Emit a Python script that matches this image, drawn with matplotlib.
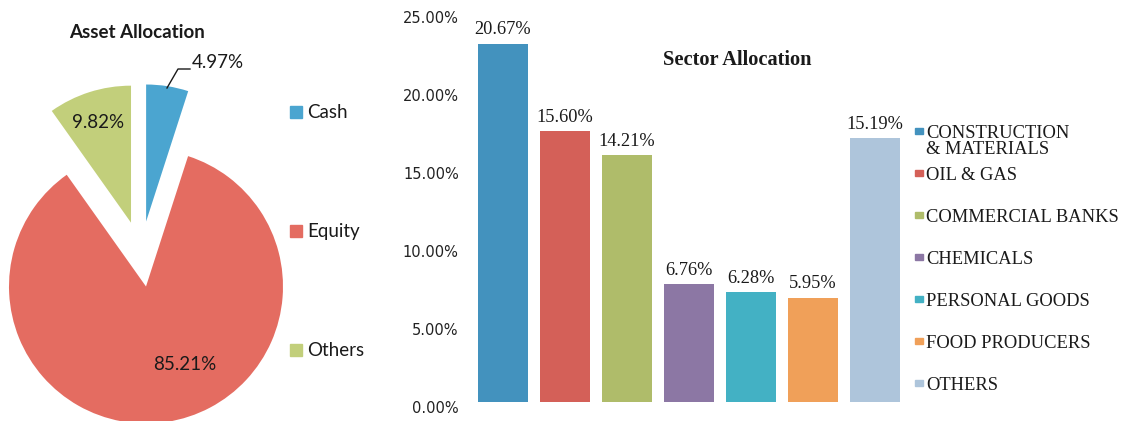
import matplotlib
matplotlib.use('Agg')
import matplotlib.pyplot as plt
import matplotlib.transforms as mtransforms
from matplotlib.patches import Rectangle

# Asset allocation (pie)
asset_names = ['Cash', 'Equity', 'Others']
asset_values = [4.97, 85.21, 9.82]
asset_colors = ['#4BA5D0', '#E46C61', '#C2CF7B']

# Sector allocation (bars): printed labels and heights as drawn on the axis
sector_names = ['CONSTRUCTION\n& MATERIALS', 'OIL & GAS', 'COMMERCIAL BANKS', 'CHEMICALS',
                'PERSONAL GOODS', 'FOOD PRODUCERS', 'OTHERS']
sector_labels = [20.67, 15.60, 14.21, 6.76, 6.28, 5.95, 15.19]
sector_heights = [22.95, 17.37, 15.83, 7.56, 7.05, 6.67, 16.92]
sector_colors = ['#4392BE', '#D46058', '#AFBC6A', '#8C77A4', '#43B1C4', '#F0A059', '#AEC5DB']
y_ticks = [0, 5, 10, 15, 20, 25]

W, H = 1123, 421
fig = plt.figure(figsize=(W / 100, H / 100), dpi=100)

sans = 'Lato'
serif = 'Liberation Serif'

# ---- Pie chart ----
R = 137
cx, cy = 141, 254  # pie centre, pixels from top-left
ax_pie = fig.add_axes([0, 0, 290 / W, 1])
ax_pie.pie(asset_values, colors=asset_colors, startangle=90, counterclock=False,
           explode=[0.24] * 3, radius=1, wedgeprops=dict(linewidth=0))
ax_pie.set_aspect('auto')
ax_pie.set_xlim(-cx / R, (290 - cx) / R)
ax_pie.set_ylim(-(H - cy) / R, cy / R)
ax_pie.axis('off')


def px(x, y):
    return (x - cx) / R, (cy - y) / R


label_pos = [(192, 63), (185, 364), (98, 123)]
label_ha = ['left', 'center', 'center']
for v, (lx, ly), ha in zip(asset_values, label_pos, label_ha):
    ax_pie.text(*px(lx, ly), f'{v:.2f}%', ha=ha, va='center', fontsize=13.5,
                family=sans, color='#1a1a1a')
# leader line for Cash label
lx_, ly_ = zip(px(167, 88), px(178, 69), px(190, 69))
ax_pie.plot(lx_, ly_, color='#1a1a1a', lw=1)

fig.text(137 / W, 1 - 33 / H, 'Asset Allocation', ha='center', va='center',
         fontsize=13.5, fontweight='bold', family=sans, color='#1a1a1a')

for i, (name, col) in enumerate(zip(asset_names, asset_colors)):
    yc = 112 + 119 * i
    fig.patches.append(Rectangle((290 / W, 1 - (yc + 6) / H), 12 / W, 12 / H,
                                 transform=fig.transFigure, color=col, figure=fig))
    fig.text(307 / W, 1 - yc / H, name, ha='left', va='center', fontsize=13.5,
             family=sans, color='#1a1a1a')

# ---- Bar chart ----
ax = fig.add_axes([472 / W, (H - 402) / H, 434 / W, 390 / H])
x = range(len(sector_heights))
ax.bar(x, sector_heights, width=0.8, color=sector_colors)
for i, (h, lbl) in enumerate(zip(sector_heights, sector_labels)):
    ax.annotate(f'{lbl:.2f}%', (i, h), xytext=(0, 14), textcoords='offset pixels',
                ha='center', va='center', fontsize=13.2, family=serif, color='#1a1a1a')
ax.set_xlim(-0.5, 6.5)
ax.set_ylim(0, 25)
ax.set_xticks([])
ax.set_yticks(y_ticks)
ax.set_yticklabels([f'{t:.2f}%' for t in y_ticks], fontsize=10.5, family='DejaVu Sans',
                   color='#222222')
ax.tick_params(axis='y', length=0, pad=9.5)
offset = mtransforms.ScaledTranslation(0, -5 / 100, fig.dpi_scale_trans)
for lab in ax.get_yticklabels():
    lab.set_transform(lab.get_transform() + offset)
for s in ax.spines.values():
    s.set_visible(False)

fig.text(737 / W, 1 - 60 / H, 'Sector Allocation', ha='center', va='center',
         fontsize=14.7, fontweight='bold', family=serif, color='#1a1a1a')

for i, (name, col) in enumerate(zip(sector_names, sector_colors)):
    yc = 133 + 42 * i
    fig.patches.append(Rectangle((915 / W, 1 - (yc + 1) / H), 8 / W, 6 / H,
                                 transform=fig.transFigure, color=col, figure=fig))
    fig.text(926 / W, 1 - (yc - 7.5) / H, name, ha='left', va='top', fontsize=13.3,
             family=serif, color='#1a1a1a', linespacing=0.92)

fig.savefig('out.png', dpi=100)
